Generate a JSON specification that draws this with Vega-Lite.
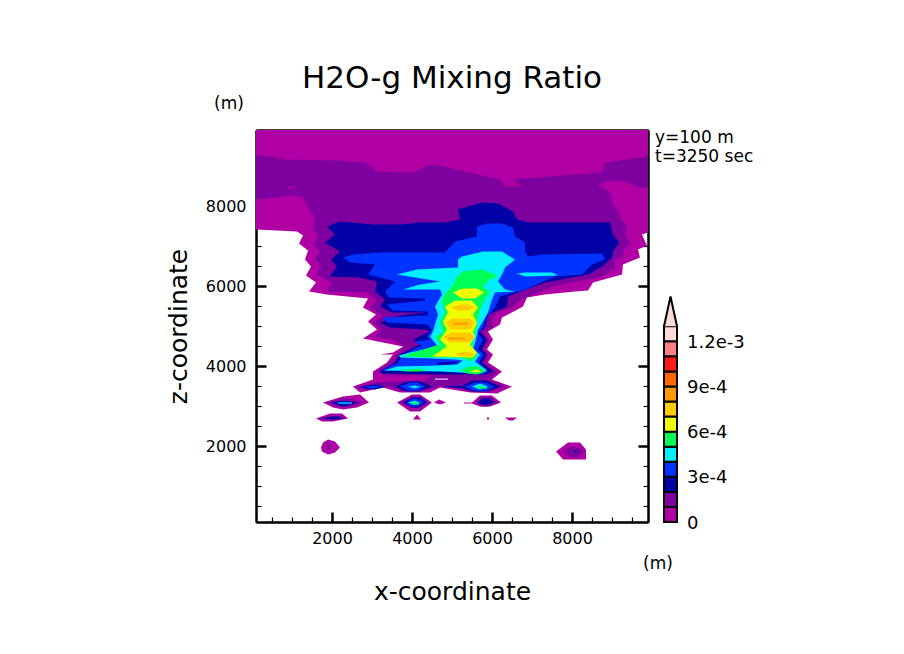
{
"$schema":"https://vega.github.io/schema/vega-lite/v6.json",
"width":392,"height":392,
"autosize":{"type":"none"},
"padding":{"left":256,"top":130,"right":256,"bottom":132},
"background":"white",
"title":{"text":"H2O-g Mixing Ratio","font":"DejaVu Sans","fontSize":31,"fontWeight":"normal","color":"black","anchor":"middle","offset":0},
"config":{"view":{"stroke":null},"axis":{"grid":false,"domainColor":"black","domainWidth":2,"tickColor":"black","zindex":1,"labelFont":"DejaVu Sans","labelFontSize":16,"labelColor":"black","titleFont":"DejaVu Sans","titleFontSize":25,"titleFontWeight":"normal","titleColor":"black"}},
"datasets":{
"contours":[
{"p":1,"l":0,"x":100,"z":9900},{"p":1,"l":0,"x":9900,"z":9900},{"p":1,"l":0,"x":9900,"z":7335},{"p":1,"l":0,"x":9750,"z":7285},{"p":1,"l":0,"x":9875,"z":7010},{"p":1,"l":0,"x":9650,"z":6910},{"p":1,"l":0,"x":9700,"z":6710},{"p":1,"l":0,"x":9275,"z":6535},{"p":1,"l":0,"x":9250,"z":6285},{"p":1,"l":0,"x":8525,"z":6085},{"p":1,"l":0,"x":8400,"z":5885},{"p":1,"l":0,"x":8075,"z":5860},{"p":1,"l":0,"x":7325,"z":5785},{"p":1,"l":0,"x":6875,"z":5710},{"p":1,"l":0,"x":6775,"z":5485},{"p":1,"l":0,"x":6250,"z":5210},{"p":1,"l":0,"x":6200,"z":5035},{"p":1,"l":0,"x":5900,"z":4860},{"p":1,"l":0,"x":6025,"z":4660},{"p":1,"l":0,"x":5875,"z":4410},{"p":1,"l":0,"x":6025,"z":4285},{"p":1,"l":0,"x":5900,"z":4085},{"p":1,"l":0,"x":6250,"z":3860},{"p":1,"l":0,"x":6000,"z":3660},{"p":1,"l":0,"x":6500,"z":3485},{"p":1,"l":0,"x":6125,"z":3310},{"p":1,"l":0,"x":5450,"z":3335},{"p":1,"l":0,"x":4700,"z":3460},{"p":1,"l":0,"x":4450,"z":3335},{"p":1,"l":0,"x":3700,"z":3335},{"p":1,"l":0,"x":3275,"z":3460},{"p":1,"l":0,"x":2700,"z":3335},{"p":1,"l":0,"x":2525,"z":3485},{"p":1,"l":0,"x":3025,"z":3660},{"p":1,"l":0,"x":3025,"z":3860},{"p":1,"l":0,"x":3375,"z":4085},{"p":1,"l":0,"x":3525,"z":4285},{"p":1,"l":0,"x":3200,"z":4285},{"p":1,"l":0,"x":3525,"z":4335},{"p":1,"l":0,"x":3775,"z":4485},{"p":1,"l":0,"x":2775,"z":4685},{"p":1,"l":0,"x":3125,"z":4910},{"p":1,"l":0,"x":2900,"z":5110},{"p":1,"l":0,"x":3100,"z":5285},{"p":1,"l":0,"x":2775,"z":5460},{"p":1,"l":0,"x":2900,"z":5685},{"p":1,"l":0,"x":1875,"z":5785},{"p":1,"l":0,"x":1425,"z":5860},{"p":1,"l":0,"x":1600,"z":6085},{"p":1,"l":0,"x":1350,"z":6260},{"p":1,"l":0,"x":1475,"z":6485},{"p":1,"l":0,"x":1325,"z":6660},{"p":1,"l":0,"x":1400,"z":6885},{"p":1,"l":0,"x":1175,"z":7060},{"p":1,"l":0,"x":1275,"z":7260},{"p":1,"l":0,"x":1125,"z":7360},{"p":1,"l":0,"x":100,"z":7410},
{"p":2,"l":1,"x":100,"z":9260},{"p":2,"l":1,"x":500,"z":9235},{"p":2,"l":1,"x":775,"z":9160},{"p":2,"l":1,"x":2125,"z":9135},{"p":2,"l":1,"x":2825,"z":9085},{"p":2,"l":1,"x":3125,"z":8860},{"p":2,"l":1,"x":4025,"z":8835},{"p":2,"l":1,"x":4500,"z":9035},{"p":2,"l":1,"x":4825,"z":8985},{"p":2,"l":1,"x":5325,"z":8860},{"p":2,"l":1,"x":6200,"z":8660},{"p":2,"l":1,"x":6325,"z":8485},{"p":2,"l":1,"x":6750,"z":8485},{"p":2,"l":1,"x":6525,"z":8660},{"p":2,"l":1,"x":8750,"z":8835},{"p":2,"l":1,"x":8825,"z":9085},{"p":2,"l":1,"x":9900,"z":9235},{"p":2,"l":1,"x":9900,"z":8460},{"p":2,"l":1,"x":9700,"z":8460},{"p":2,"l":1,"x":9325,"z":8610},{"p":2,"l":1,"x":8900,"z":8635},{"p":2,"l":1,"x":8650,"z":8510},{"p":2,"l":1,"x":8950,"z":8360},{"p":2,"l":1,"x":9000,"z":8085},{"p":2,"l":1,"x":9150,"z":7860},{"p":2,"l":1,"x":9200,"z":7710},{"p":2,"l":1,"x":9375,"z":7485},{"p":2,"l":1,"x":9325,"z":7285},{"p":2,"l":1,"x":9450,"z":7085},{"p":2,"l":1,"x":9275,"z":6885},{"p":2,"l":1,"x":9275,"z":6735},{"p":2,"l":1,"x":9075,"z":6660},{"p":2,"l":1,"x":9075,"z":6460},{"p":2,"l":1,"x":8750,"z":6235},{"p":2,"l":1,"x":7500,"z":5985},{"p":2,"l":1,"x":6900,"z":5735},{"p":2,"l":1,"x":6625,"z":5610},{"p":2,"l":1,"x":6525,"z":5460},{"p":2,"l":1,"x":6375,"z":5410},{"p":2,"l":1,"x":6125,"z":5335},{"p":2,"l":1,"x":6000,"z":5160},{"p":2,"l":1,"x":6025,"z":4960},{"p":2,"l":1,"x":5775,"z":4835},{"p":2,"l":1,"x":5925,"z":4660},{"p":2,"l":1,"x":5800,"z":4410},{"p":2,"l":1,"x":5925,"z":4285},{"p":2,"l":1,"x":5825,"z":4085},{"p":2,"l":1,"x":6150,"z":3860},{"p":2,"l":1,"x":5900,"z":3660},{"p":2,"l":1,"x":6375,"z":3485},{"p":2,"l":1,"x":5950,"z":3360},{"p":2,"l":1,"x":5500,"z":3360},{"p":2,"l":1,"x":5150,"z":3485},{"p":2,"l":1,"x":4700,"z":3485},{"p":2,"l":1,"x":4375,"z":3410},{"p":2,"l":1,"x":3775,"z":3360},{"p":2,"l":1,"x":3325,"z":3510},{"p":2,"l":1,"x":2875,"z":3385},{"p":2,"l":1,"x":2650,"z":3485},{"p":2,"l":1,"x":3025,"z":3585},{"p":2,"l":1,"x":3575,"z":3610},{"p":2,"l":1,"x":4325,"z":3635},{"p":2,"l":1,"x":4500,"z":3760},{"p":2,"l":1,"x":3325,"z":3760},{"p":2,"l":1,"x":3125,"z":3860},{"p":2,"l":1,"x":3450,"z":4085},{"p":2,"l":1,"x":3625,"z":4285},{"p":2,"l":1,"x":3825,"z":4485},{"p":2,"l":1,"x":3575,"z":4635},{"p":2,"l":1,"x":3075,"z":4735},{"p":2,"l":1,"x":3250,"z":4935},{"p":2,"l":1,"x":3025,"z":5085},{"p":2,"l":1,"x":3275,"z":5235},{"p":2,"l":1,"x":2950,"z":5460},{"p":2,"l":1,"x":3125,"z":5610},{"p":2,"l":1,"x":2875,"z":5835},{"p":2,"l":1,"x":1875,"z":5860},{"p":2,"l":1,"x":2000,"z":6085},{"p":2,"l":1,"x":1600,"z":6285},{"p":2,"l":1,"x":1725,"z":6485},{"p":2,"l":1,"x":1575,"z":6660},{"p":2,"l":1,"x":1700,"z":6835},{"p":2,"l":1,"x":1550,"z":7035},{"p":2,"l":1,"x":1650,"z":7235},{"p":2,"l":1,"x":1525,"z":7460},{"p":2,"l":1,"x":1575,"z":7710},{"p":2,"l":1,"x":1400,"z":7960},{"p":2,"l":1,"x":1275,"z":8210},{"p":2,"l":1,"x":1025,"z":8260},{"p":2,"l":1,"x":575,"z":8210},{"p":2,"l":1,"x":100,"z":8160},
{"p":3,"l":0,"x":875,"z":8485},{"p":3,"l":0,"x":1075,"z":8485},{"p":3,"l":0,"x":1075,"z":8435},{"p":3,"l":0,"x":900,"z":8435},
{"p":4,"l":2,"x":1875,"z":7485},{"p":4,"l":2,"x":2200,"z":7610},{"p":4,"l":2,"x":3025,"z":7535},{"p":4,"l":2,"x":3775,"z":7535},{"p":4,"l":2,"x":4200,"z":7585},{"p":4,"l":2,"x":4825,"z":7585},{"p":4,"l":2,"x":5200,"z":7660},{"p":4,"l":2,"x":5150,"z":7910},{"p":4,"l":2,"x":5750,"z":8085},{"p":4,"l":2,"x":6150,"z":8060},{"p":4,"l":2,"x":6525,"z":7860},{"p":4,"l":2,"x":6625,"z":7660},{"p":4,"l":2,"x":6900,"z":7585},{"p":4,"l":2,"x":8950,"z":7585},{"p":4,"l":2,"x":9025,"z":7285},{"p":4,"l":2,"x":9175,"z":7085},{"p":4,"l":2,"x":9025,"z":6860},{"p":4,"l":2,"x":9000,"z":6710},{"p":4,"l":2,"x":8750,"z":6485},{"p":4,"l":2,"x":8400,"z":6285},{"p":4,"l":2,"x":7325,"z":6085},{"p":4,"l":2,"x":6700,"z":5860},{"p":4,"l":2,"x":6400,"z":5735},{"p":4,"l":2,"x":6375,"z":5485},{"p":4,"l":2,"x":5900,"z":5285},{"p":4,"l":2,"x":5825,"z":4960},{"p":4,"l":2,"x":5700,"z":4860},{"p":4,"l":2,"x":5875,"z":4660},{"p":4,"l":2,"x":5750,"z":4410},{"p":4,"l":2,"x":5875,"z":4285},{"p":4,"l":2,"x":5750,"z":4085},{"p":4,"l":2,"x":6025,"z":3860},{"p":4,"l":2,"x":5825,"z":3785},{"p":4,"l":2,"x":4700,"z":3785},{"p":4,"l":2,"x":3275,"z":3810},{"p":4,"l":2,"x":3200,"z":3860},{"p":4,"l":2,"x":3575,"z":4085},{"p":4,"l":2,"x":3700,"z":4285},{"p":4,"l":2,"x":3950,"z":4410},{"p":4,"l":2,"x":4200,"z":4535},{"p":4,"l":2,"x":4025,"z":4660},{"p":4,"l":2,"x":4450,"z":4860},{"p":4,"l":2,"x":4325,"z":4910},{"p":4,"l":2,"x":3450,"z":4960},{"p":4,"l":2,"x":3200,"z":5085},{"p":4,"l":2,"x":3700,"z":5260},{"p":4,"l":2,"x":4375,"z":5335},{"p":4,"l":2,"x":3500,"z":5335},{"p":4,"l":2,"x":3200,"z":5485},{"p":4,"l":2,"x":3325,"z":5660},{"p":4,"l":2,"x":3075,"z":5860},{"p":4,"l":2,"x":3125,"z":6110},{"p":4,"l":2,"x":2700,"z":6210},{"p":4,"l":2,"x":1950,"z":6235},{"p":4,"l":2,"x":2125,"z":6485},{"p":4,"l":2,"x":1975,"z":6660},{"p":4,"l":2,"x":2200,"z":6860},{"p":4,"l":2,"x":1825,"z":7085},{"p":4,"l":2,"x":2075,"z":7285},
{"p":5,"l":3,"x":2275,"z":6710},{"p":5,"l":3,"x":2525,"z":6785},{"p":5,"l":3,"x":3200,"z":6835},{"p":5,"l":3,"x":4825,"z":6835},{"p":5,"l":3,"x":5075,"z":7110},{"p":5,"l":3,"x":5625,"z":7235},{"p":5,"l":3,"x":5625,"z":7485},{"p":5,"l":3,"x":5875,"z":7560},{"p":5,"l":3,"x":6250,"z":7560},{"p":5,"l":3,"x":6525,"z":7460},{"p":5,"l":3,"x":6575,"z":7235},{"p":5,"l":3,"x":6825,"z":7085},{"p":5,"l":3,"x":6825,"z":6860},{"p":5,"l":3,"x":6900,"z":6735},{"p":5,"l":3,"x":7250,"z":6785},{"p":5,"l":3,"x":8750,"z":6810},{"p":5,"l":3,"x":8825,"z":6660},{"p":5,"l":3,"x":8500,"z":6535},{"p":5,"l":3,"x":8250,"z":6285},{"p":5,"l":3,"x":7575,"z":6235},{"p":5,"l":3,"x":6825,"z":5910},{"p":5,"l":3,"x":6200,"z":5735},{"p":5,"l":3,"x":6075,"z":5460},{"p":5,"l":3,"x":5875,"z":5235},{"p":5,"l":3,"x":5775,"z":4960},{"p":5,"l":3,"x":5650,"z":4810},{"p":5,"l":3,"x":5775,"z":4660},{"p":5,"l":3,"x":5650,"z":4410},{"p":5,"l":3,"x":5800,"z":4285},{"p":5,"l":3,"x":5675,"z":4085},{"p":5,"l":3,"x":5900,"z":3860},{"p":5,"l":3,"x":5775,"z":3785},{"p":5,"l":3,"x":5125,"z":3860},{"p":5,"l":3,"x":4700,"z":3910},{"p":5,"l":3,"x":3250,"z":3885},{"p":5,"l":3,"x":3650,"z":4085},{"p":5,"l":3,"x":3775,"z":4285},{"p":5,"l":3,"x":4125,"z":4460},{"p":5,"l":3,"x":4250,"z":4485},{"p":5,"l":3,"x":4075,"z":4610},{"p":5,"l":3,"x":4450,"z":4660},{"p":5,"l":3,"x":4375,"z":4735},{"p":5,"l":3,"x":4500,"z":4910},{"p":5,"l":3,"x":4375,"z":5035},{"p":5,"l":3,"x":3375,"z":5085},{"p":5,"l":3,"x":3275,"z":5210},{"p":5,"l":3,"x":4400,"z":5260},{"p":5,"l":3,"x":4400,"z":5360},{"p":5,"l":3,"x":3525,"z":5385},{"p":5,"l":3,"x":3375,"z":5535},{"p":5,"l":3,"x":4325,"z":5635},{"p":5,"l":3,"x":4325,"z":5685},{"p":5,"l":3,"x":3400,"z":5710},{"p":5,"l":3,"x":3325,"z":5860},{"p":5,"l":3,"x":3575,"z":6110},{"p":5,"l":3,"x":2900,"z":6285},{"p":5,"l":3,"x":3075,"z":6535},{"p":5,"l":3,"x":2450,"z":6585},
{"p":6,"l":2,"x":4625,"z":4085},{"p":6,"l":2,"x":5025,"z":4110},{"p":6,"l":2,"x":5200,"z":4085},{"p":6,"l":2,"x":4950,"z":4035},{"p":6,"l":2,"x":4650,"z":4035},
{"p":7,"l":4,"x":3625,"z":6285},{"p":7,"l":4,"x":4125,"z":6410},{"p":7,"l":4,"x":5150,"z":6460},{"p":7,"l":4,"x":5150,"z":6660},{"p":7,"l":4,"x":5250,"z":6735},{"p":7,"l":4,"x":5775,"z":6860},{"p":7,"l":4,"x":6250,"z":6860},{"p":7,"l":4,"x":6575,"z":6660},{"p":7,"l":4,"x":6325,"z":6460},{"p":7,"l":4,"x":6275,"z":6335},{"p":7,"l":4,"x":6150,"z":6110},{"p":7,"l":4,"x":6325,"z":5910},{"p":7,"l":4,"x":6575,"z":5860},{"p":7,"l":4,"x":6075,"z":5835},{"p":7,"l":4,"x":6000,"z":5660},{"p":7,"l":4,"x":5900,"z":5335},{"p":7,"l":4,"x":5775,"z":5110},{"p":7,"l":4,"x":5650,"z":4910},{"p":7,"l":4,"x":5600,"z":4660},{"p":7,"l":4,"x":5525,"z":4410},{"p":7,"l":4,"x":5700,"z":4285},{"p":7,"l":4,"x":5575,"z":4110},{"p":7,"l":4,"x":5875,"z":3885},{"p":7,"l":4,"x":5700,"z":3810},{"p":7,"l":4,"x":5200,"z":3835},{"p":7,"l":4,"x":4700,"z":3860},{"p":7,"l":4,"x":3300,"z":3885},{"p":7,"l":4,"x":3625,"z":3985},{"p":7,"l":4,"x":4625,"z":4010},{"p":7,"l":4,"x":5125,"z":4035},{"p":7,"l":4,"x":5275,"z":4135},{"p":7,"l":4,"x":5075,"z":4160},{"p":7,"l":4,"x":4525,"z":4185},{"p":7,"l":4,"x":3700,"z":4210},{"p":7,"l":4,"x":3675,"z":4260},{"p":7,"l":4,"x":3950,"z":4335},{"p":7,"l":4,"x":4325,"z":4410},{"p":7,"l":4,"x":4625,"z":4510},{"p":7,"l":4,"x":4450,"z":4735},{"p":7,"l":4,"x":4525,"z":4860},{"p":7,"l":4,"x":4575,"z":5035},{"p":7,"l":4,"x":4650,"z":5285},{"p":7,"l":4,"x":4575,"z":5485},{"p":7,"l":4,"x":4750,"z":5785},{"p":7,"l":4,"x":4700,"z":5910},{"p":7,"l":4,"x":3775,"z":5910},{"p":7,"l":4,"x":4200,"z":6035},{"p":7,"l":4,"x":4700,"z":6110},
{"p":8,"l":4,"x":6625,"z":6310},{"p":8,"l":4,"x":6825,"z":6335},{"p":8,"l":4,"x":7500,"z":6335},{"p":8,"l":4,"x":7650,"z":6260},{"p":8,"l":4,"x":6825,"z":6235},
{"p":9,"l":5,"x":5125,"z":6235},{"p":9,"l":5,"x":5275,"z":6360},{"p":9,"l":5,"x":5750,"z":6410},{"p":9,"l":5,"x":6150,"z":6260},{"p":9,"l":5,"x":5950,"z":6160},{"p":9,"l":5,"x":5775,"z":5985},{"p":9,"l":5,"x":5950,"z":5835},{"p":9,"l":5,"x":5775,"z":5585},{"p":9,"l":5,"x":5700,"z":5360},{"p":9,"l":5,"x":5625,"z":5110},{"p":9,"l":5,"x":5625,"z":4960},{"p":9,"l":5,"x":5525,"z":4660},{"p":9,"l":5,"x":5525,"z":4410},{"p":9,"l":5,"x":5625,"z":4285},{"p":9,"l":5,"x":5500,"z":4110},{"p":9,"l":5,"x":5200,"z":4210},{"p":9,"l":5,"x":4525,"z":4210},{"p":9,"l":5,"x":3775,"z":4235},{"p":9,"l":5,"x":3950,"z":4310},{"p":9,"l":5,"x":4275,"z":4410},{"p":9,"l":5,"x":4700,"z":4535},{"p":9,"l":5,"x":4575,"z":4735},{"p":9,"l":5,"x":4775,"z":4835},{"p":9,"l":5,"x":4700,"z":5110},{"p":9,"l":5,"x":4825,"z":5360},{"p":9,"l":5,"x":4750,"z":5585},{"p":9,"l":5,"x":4775,"z":5735},{"p":9,"l":5,"x":5025,"z":6035},
{"p":10,"l":5,"x":5200,"z":3885},{"p":10,"l":5,"x":5400,"z":3985},{"p":10,"l":5,"x":5700,"z":3985},{"p":10,"l":5,"x":5825,"z":3860},{"p":10,"l":5,"x":5625,"z":3785},{"p":10,"l":5,"x":5375,"z":3810},
{"p":11,"l":5,"x":3700,"z":3885},{"p":11,"l":5,"x":4200,"z":3935},{"p":11,"l":5,"x":4325,"z":3885},{"p":11,"l":5,"x":4200,"z":3860},{"p":11,"l":5,"x":3825,"z":3860},
{"p":12,"l":6,"x":5025,"z":5835},{"p":12,"l":6,"x":5250,"z":5935},{"p":12,"l":6,"x":5625,"z":5935},{"p":12,"l":6,"x":5800,"z":5835},{"p":12,"l":6,"x":5575,"z":5685},{"p":12,"l":6,"x":5250,"z":5685},
{"p":13,"l":6,"x":4825,"z":5485},{"p":13,"l":6,"x":5075,"z":5635},{"p":13,"l":6,"x":5500,"z":5635},{"p":13,"l":6,"x":5650,"z":5460},{"p":13,"l":6,"x":5525,"z":5285},{"p":13,"l":6,"x":5625,"z":5085},{"p":13,"l":6,"x":5525,"z":4835},{"p":13,"l":6,"x":5575,"z":4735},{"p":13,"l":6,"x":5450,"z":4535},{"p":13,"l":6,"x":5625,"z":4335},{"p":13,"l":6,"x":5525,"z":4210},{"p":13,"l":6,"x":4500,"z":4235},{"p":13,"l":6,"x":4875,"z":4485},{"p":13,"l":6,"x":4700,"z":4660},{"p":13,"l":6,"x":4875,"z":4910},{"p":13,"l":6,"x":4775,"z":5110},{"p":13,"l":6,"x":4900,"z":5335},
{"p":14,"l":6,"x":5450,"z":3860},{"p":14,"l":6,"x":5600,"z":3910},{"p":14,"l":6,"x":5750,"z":3860},{"p":14,"l":6,"x":5600,"z":3835},
{"p":15,"l":7,"x":4950,"z":5460},{"p":15,"l":7,"x":5200,"z":5535},{"p":15,"l":7,"x":5400,"z":5535},{"p":15,"l":7,"x":5575,"z":5460},{"p":15,"l":7,"x":5400,"z":5385},{"p":15,"l":7,"x":5125,"z":5385},
{"p":16,"l":7,"x":4825,"z":5085},{"p":16,"l":7,"x":5000,"z":5185},{"p":16,"l":7,"x":5450,"z":5185},{"p":16,"l":7,"x":5575,"z":5085},{"p":16,"l":7,"x":5450,"z":4910},{"p":16,"l":7,"x":4950,"z":4910},
{"p":17,"l":7,"x":4775,"z":4710},{"p":17,"l":7,"x":4950,"z":4835},{"p":17,"l":7,"x":5450,"z":4835},{"p":17,"l":7,"x":5575,"z":4710},{"p":17,"l":7,"x":5450,"z":4585},{"p":17,"l":7,"x":4950,"z":4585},
{"p":18,"l":7,"x":5075,"z":4285},{"p":18,"l":7,"x":5275,"z":4360},{"p":18,"l":7,"x":5500,"z":4335},{"p":18,"l":7,"x":5550,"z":4285},{"p":18,"l":7,"x":5500,"z":4235},{"p":18,"l":7,"x":5200,"z":4235},
{"p":19,"l":8,"x":5025,"z":5085},{"p":19,"l":8,"x":5400,"z":5085},{"p":19,"l":8,"x":5400,"z":5035},{"p":19,"l":8,"x":5025,"z":5035},
{"p":20,"l":8,"x":4900,"z":4710},{"p":20,"l":8,"x":5325,"z":4710},{"p":20,"l":8,"x":5325,"z":4660},{"p":20,"l":8,"x":4900,"z":4660},
{"p":21,"l":2,"x":2650,"z":3460},{"p":21,"l":2,"x":3075,"z":3535},{"p":21,"l":2,"x":3375,"z":3485},{"p":21,"l":2,"x":3075,"z":3410},
{"p":22,"l":2,"x":3575,"z":3485},{"p":22,"l":2,"x":3875,"z":3610},{"p":22,"l":2,"x":4200,"z":3610},{"p":22,"l":2,"x":4500,"z":3485},{"p":22,"l":2,"x":4200,"z":3360},{"p":22,"l":2,"x":3875,"z":3360},
{"p":23,"l":2,"x":4750,"z":3485},{"p":23,"l":2,"x":5275,"z":3510},{"p":23,"l":2,"x":5500,"z":3635},{"p":23,"l":2,"x":5875,"z":3635},{"p":23,"l":2,"x":6200,"z":3485},{"p":23,"l":2,"x":5875,"z":3360},{"p":23,"l":2,"x":5500,"z":3360},{"p":23,"l":2,"x":5250,"z":3435},
{"p":24,"l":3,"x":2800,"z":3460},{"p":24,"l":3,"x":3025,"z":3510},{"p":24,"l":3,"x":3250,"z":3485},{"p":24,"l":3,"x":3025,"z":3435},
{"p":25,"l":3,"x":3700,"z":3485},{"p":25,"l":3,"x":3950,"z":3585},{"p":25,"l":3,"x":4150,"z":3585},{"p":25,"l":3,"x":4325,"z":3485},{"p":25,"l":3,"x":4150,"z":3385},{"p":25,"l":3,"x":3900,"z":3385},
{"p":26,"l":3,"x":5325,"z":3485},{"p":26,"l":3,"x":5575,"z":3585},{"p":26,"l":3,"x":5825,"z":3585},{"p":26,"l":3,"x":6075,"z":3485},{"p":26,"l":3,"x":5825,"z":3360},{"p":26,"l":3,"x":5525,"z":3385},
{"p":27,"l":4,"x":3900,"z":3485},{"p":27,"l":4,"x":4075,"z":3510},{"p":27,"l":4,"x":4200,"z":3485},{"p":27,"l":4,"x":4075,"z":3435},
{"p":28,"l":4,"x":5500,"z":3485},{"p":28,"l":4,"x":5700,"z":3560},{"p":28,"l":4,"x":5900,"z":3485},{"p":28,"l":4,"x":5700,"z":3410},
{"p":29,"l":5,"x":5625,"z":3485},{"p":29,"l":5,"x":5875,"z":3485},{"p":29,"l":5,"x":5875,"z":3435},{"p":29,"l":5,"x":5625,"z":3435},
{"p":30,"l":99,"x":4575,"z":3685},{"p":30,"l":99,"x":4900,"z":3685},{"p":30,"l":99,"x":4900,"z":3660},{"p":30,"l":99,"x":4575,"z":3660},
{"p":31,"l":0,"x":1775,"z":3085},{"p":31,"l":0,"x":2275,"z":3235},{"p":31,"l":0,"x":2700,"z":3285},{"p":31,"l":0,"x":2925,"z":3085},{"p":31,"l":0,"x":2625,"z":2960},{"p":31,"l":0,"x":2275,"z":2910},{"p":31,"l":0,"x":2025,"z":2960},
{"p":32,"l":0,"x":3625,"z":3085},{"p":32,"l":0,"x":4000,"z":3285},{"p":32,"l":0,"x":4200,"z":3285},{"p":32,"l":0,"x":4500,"z":3085},{"p":32,"l":0,"x":4200,"z":2860},{"p":32,"l":0,"x":3950,"z":2860},
{"p":33,"l":0,"x":4550,"z":3085},{"p":33,"l":0,"x":4675,"z":3160},{"p":33,"l":0,"x":4850,"z":3085},{"p":33,"l":0,"x":4700,"z":3035},
{"p":34,"l":0,"x":5300,"z":3085},{"p":34,"l":0,"x":5500,"z":3085},{"p":34,"l":0,"x":5700,"z":3260},{"p":34,"l":0,"x":6000,"z":3260},{"p":34,"l":0,"x":6225,"z":3085},{"p":34,"l":0,"x":5950,"z":2985},{"p":34,"l":0,"x":5700,"z":2985},{"p":34,"l":0,"x":5500,"z":3060},{"p":34,"l":0,"x":5300,"z":3060},
{"p":35,"l":0,"x":1600,"z":2685},{"p":35,"l":0,"x":1950,"z":2810},{"p":35,"l":0,"x":2250,"z":2810},{"p":35,"l":0,"x":2400,"z":2685},{"p":35,"l":0,"x":2025,"z":2610},{"p":35,"l":0,"x":1750,"z":2610},
{"p":36,"l":0,"x":4025,"z":2660},{"p":36,"l":0,"x":4125,"z":2785},{"p":36,"l":0,"x":4225,"z":2660},
{"p":37,"l":0,"x":5875,"z":2710},{"p":37,"l":0,"x":5925,"z":2710},{"p":37,"l":0,"x":5925,"z":2660},{"p":37,"l":0,"x":5875,"z":2660},
{"p":38,"l":0,"x":6325,"z":2710},{"p":38,"l":0,"x":6625,"z":2710},{"p":38,"l":0,"x":6525,"z":2635},{"p":38,"l":0,"x":6425,"z":2635},
{"p":39,"l":0,"x":1725,"z":1960},{"p":39,"l":0,"x":1775,"z":2085},{"p":39,"l":0,"x":1900,"z":2160},{"p":39,"l":0,"x":2075,"z":2110},{"p":39,"l":0,"x":2200,"z":1960},{"p":39,"l":0,"x":2075,"z":1835},{"p":39,"l":0,"x":1900,"z":1785},{"p":39,"l":0,"x":1750,"z":1860},
{"p":40,"l":0,"x":7600,"z":1860},{"p":40,"l":0,"x":7900,"z":2085},{"p":40,"l":0,"x":8200,"z":2085},{"p":40,"l":0,"x":8350,"z":1910},{"p":40,"l":0,"x":8350,"z":1660},{"p":40,"l":0,"x":7775,"z":1660},
{"p":41,"l":1,"x":1875,"z":2085},{"p":41,"l":1,"x":1950,"z":2085},{"p":41,"l":1,"x":1950,"z":1860},{"p":41,"l":1,"x":1875,"z":1860},
{"p":42,"l":1,"x":7800,"z":1860},{"p":42,"l":1,"x":7950,"z":1985},{"p":42,"l":1,"x":8250,"z":1935},{"p":42,"l":1,"x":8275,"z":1835},{"p":42,"l":1,"x":8150,"z":1710},{"p":42,"l":1,"x":7950,"z":1735},
{"p":43,"l":2,"x":8025,"z":1885},{"p":43,"l":2,"x":8150,"z":1885},{"p":43,"l":2,"x":8100,"z":1835},
{"p":44,"l":1,"x":1875,"z":3085},{"p":44,"l":1,"x":2250,"z":3185},{"p":44,"l":1,"x":2525,"z":3160},{"p":44,"l":1,"x":2775,"z":3085},{"p":44,"l":1,"x":2450,"z":2960},{"p":44,"l":1,"x":2125,"z":2985},
{"p":45,"l":2,"x":1975,"z":3085},{"p":45,"l":2,"x":2275,"z":3135},{"p":45,"l":2,"x":2625,"z":3085},{"p":45,"l":2,"x":2275,"z":2985},
{"p":46,"l":3,"x":2075,"z":3085},{"p":46,"l":3,"x":2325,"z":3110},{"p":46,"l":3,"x":2525,"z":3085},{"p":46,"l":3,"x":2275,"z":3035},
{"p":47,"l":4,"x":2150,"z":3085},{"p":47,"l":4,"x":2500,"z":3085},{"p":47,"l":4,"x":2500,"z":3060},{"p":47,"l":4,"x":2150,"z":3060},
{"p":48,"l":1,"x":3700,"z":3085},{"p":48,"l":1,"x":4000,"z":3235},{"p":48,"l":1,"x":4200,"z":3235},{"p":48,"l":1,"x":4425,"z":3085},{"p":48,"l":1,"x":4150,"z":2910},{"p":48,"l":1,"x":4000,"z":2935},
{"p":49,"l":2,"x":3775,"z":3085},{"p":49,"l":2,"x":4000,"z":3210},{"p":49,"l":2,"x":4200,"z":3210},{"p":49,"l":2,"x":4375,"z":3085},{"p":49,"l":2,"x":4150,"z":2960},{"p":49,"l":2,"x":4000,"z":2960},
{"p":50,"l":3,"x":3850,"z":3085},{"p":50,"l":3,"x":4025,"z":3185},{"p":50,"l":3,"x":4200,"z":3160},{"p":50,"l":3,"x":4300,"z":3085},{"p":50,"l":3,"x":4125,"z":2985},{"p":50,"l":3,"x":3950,"z":2985},
{"p":51,"l":4,"x":3900,"z":3085},{"p":51,"l":4,"x":4075,"z":3135},{"p":51,"l":4,"x":4175,"z":3085},{"p":51,"l":4,"x":4075,"z":3035},
{"p":52,"l":5,"x":4000,"z":3085},{"p":52,"l":5,"x":4175,"z":3085},{"p":52,"l":5,"x":4175,"z":3035},{"p":52,"l":5,"x":4000,"z":3035},
{"p":53,"l":1,"x":5575,"z":3085},{"p":53,"l":1,"x":5750,"z":3235},{"p":53,"l":1,"x":5950,"z":3235},{"p":53,"l":1,"x":6150,"z":3085},{"p":53,"l":1,"x":5900,"z":2985},{"p":53,"l":1,"x":5750,"z":2985},
{"p":54,"l":2,"x":5650,"z":3085},{"p":54,"l":2,"x":5750,"z":3185},{"p":54,"l":2,"x":5950,"z":3185},{"p":54,"l":2,"x":6050,"z":3085},{"p":54,"l":2,"x":5900,"z":3035},{"p":54,"l":2,"x":5750,"z":3035},
{"p":55,"l":1,"x":1650,"z":2685},{"p":55,"l":1,"x":2000,"z":2760},{"p":55,"l":1,"x":2200,"z":2760},{"p":55,"l":1,"x":2325,"z":2685},{"p":55,"l":1,"x":2000,"z":2635},{"p":55,"l":1,"x":1775,"z":2635},
{"p":56,"l":2,"x":1775,"z":2685},{"p":56,"l":2,"x":2000,"z":2735},{"p":56,"l":2,"x":2150,"z":2735},{"p":56,"l":2,"x":2275,"z":2685},{"p":56,"l":2,"x":2025,"z":2660}
],
"colorbar":[
{"l":0,"lo":0,"hi":0.0001},{"l":1,"lo":0.0001,"hi":0.0002},{"l":2,"lo":0.0002,"hi":0.0003},{"l":3,"lo":0.0003,"hi":0.0004},{"l":4,"lo":0.0004,"hi":0.0005},{"l":5,"lo":0.0005,"hi":0.0006},{"l":6,"lo":0.0006,"hi":0.0007},{"l":7,"lo":0.0007,"hi":0.0008},{"l":8,"lo":0.0008,"hi":0.0009},{"l":9,"lo":0.0009,"hi":0.001},{"l":10,"lo":0.001,"hi":0.0011},{"l":11,"lo":0.0011,"hi":0.0012},{"l":12,"lo":0.0012,"hi":0.0013}
],
"notes":[
{"x":-950,"z":10560,"t":"(m)"},{"x":9775,"z":-940,"t":"(m)"},{"x":10075,"z":9710,"t":"y=100 m"},{"x":10075,"z":9235,"t":"t=3250 sec"}
]
},
"resolve":{"scale":{"x":"independent","y":"independent"}},
"layer":[
{"data":{"name":"contours"},
 "mark":{"type":"line","strokeWidth":0,"clip":true},
 "encoding":{
  "x":{"field":"x","type":"quantitative","scale":{"domain":[100,9900],"nice":false},"axis":{"orient":"bottom","values":[2000,4000,6000,8000],"format":"d","tickSize":-10,"tickWidth":2.5,"labelPadding":18,"title":"x-coordinate","titlePadding":33}},
  "y":{"field":"z","type":"quantitative","scale":{"domain":[100,9900],"nice":false},"axis":{"orient":"left","values":[2000,4000,6000,8000],"format":"d","tickSize":-10,"tickWidth":2.5,"labelPadding":20,"title":"z-coordinate","titlePadding":14}},
  "fill":{"field":"l","type":"ordinal","legend":null,"scale":{"domain":[0,1,2,3,4,5,6,7,8,9,10,11,12,99],"range":["#B000A5","#7D009F","#0000A5","#0033FF","#00EEFF","#00FF55","#EEFF00","#FFCC00","#FF9900","#FF6600","#FF1A1A","#FF8080","#FFD9D9","#FFFFFF"]}},
  "detail":{"field":"p"},
  "order":{"value":null}
 }},
{"data":{"values":[]},
 "mark":{"type":"point","opacity":0},
 "encoding":{
  "x":{"field":"x","type":"quantitative","scale":{"domain":[100,9900],"nice":false},"axis":{"orient":"top","values":[2000,4000,6000,8000],"tickSize":-10,"tickWidth":2.5,"labels":false,"title":null}},
  "y":{"field":"z","type":"quantitative","scale":{"domain":[100,9900],"nice":false},"axis":{"orient":"right","values":[2000,4000,6000,8000],"tickSize":-10,"tickWidth":2.5,"labels":false,"title":null}}
 }},
{"data":{"values":[]},
 "mark":{"type":"point","opacity":0},
 "encoding":{
  "x":{"field":"x","type":"quantitative","scale":{"domain":[100,9900],"nice":false},"axis":{"orient":"bottom","values":[500,1000,1500,2500,3000,3500,4500,5000,5500,6500,7000,7500,8500,9000,9500],"tickSize":-5,"tickWidth":1.2,"labels":false,"title":null}},
  "y":{"field":"z","type":"quantitative","scale":{"domain":[100,9900],"nice":false},"axis":{"orient":"left","values":[500,1000,1500,2500,3000,3500,4500,5000,5500,6500,7000,7500,8500,9000,9500],"tickSize":-5,"tickWidth":1.2,"labels":false,"title":null}}
 }},
{"data":{"values":[]},
 "mark":{"type":"point","opacity":0},
 "encoding":{
  "x":{"field":"x","type":"quantitative","scale":{"domain":[100,9900],"nice":false},"axis":{"orient":"top","values":[500,1000,1500,2500,3000,3500,4500,5000,5500,6500,7000,7500,8500,9000,9500],"tickSize":-5,"tickWidth":1.2,"labels":false,"title":null}},
  "y":{"field":"z","type":"quantitative","scale":{"domain":[100,9900],"nice":false},"axis":{"orient":"right","values":[500,1000,1500,2500,3000,3500,4500,5000,5500,6500,7000,7500,8500,9000,9500],"tickSize":-5,"tickWidth":1.2,"labels":false,"title":null}}
 }},
{"data":{"name":"notes"},
 "mark":{"type":"text","align":"left","baseline":"middle","font":"DejaVu Sans","fontSize":17,"color":"black"},
 "encoding":{
  "x":{"field":"x","type":"quantitative","scale":{"domain":[100,9900],"nice":false},"axis":null},
  "y":{"field":"z","type":"quantitative","scale":{"domain":[100,9900],"nice":false},"axis":null},
  "text":{"field":"t"}
 }},
{"data":{"name":"colorbar"},
 "mark":{"type":"rect","stroke":"black","strokeWidth":2},
 "encoding":{
  "x":{"datum":0,"type":"quantitative","scale":{"domain":[-31.385,-1.231],"nice":false,"zero":false},"axis":null},
  "x2":{"datum":1},
  "y":{"field":"lo","type":"quantitative","scale":{"domain":[0,0.002603],"nice":false},"axis":null},
  "y2":{"field":"hi"},
  "fill":{"field":"l","type":"ordinal","legend":null,"scale":{"domain":[0,1,2,3,4,5,6,7,8,9,10,11,12,99],"range":["#B000A5","#7D009F","#0000A5","#0033FF","#00EEFF","#00FF55","#EEFF00","#FFCC00","#FF9900","#FF6600","#FF1A1A","#FF8080","#FFD9D9","#FFFFFF"]}}
 }},
{"data":{"values":[{"b":0,"r":0.0013},{"b":0.5,"r":0.001497},{"b":1,"r":0.0013}]},
 "mark":{"type":"line","fill":"#FFD9D9","stroke":"black","strokeWidth":2},
 "encoding":{
  "x":{"field":"b","type":"quantitative","scale":{"domain":[-31.385,-1.231],"nice":false,"zero":false},"axis":null},
  "y":{"field":"r","type":"quantitative","scale":{"domain":[0,0.002603],"nice":false},"axis":null}
 }},
{"data":{"values":[{"r":0,"t":"0"},{"r":0.0003,"t":"3e-4"},{"r":0.0006,"t":"6e-4"},{"r":0.0009,"t":"9e-4"},{"r":0.0012,"t":"1.2e-3"}]},
 "mark":{"type":"text","align":"left","baseline":"middle","font":"DejaVu Sans","fontSize":18,"dy":1.5,"color":"black"},
 "encoding":{
  "x":{"datum":1.77,"type":"quantitative","scale":{"domain":[-31.385,-1.231],"nice":false,"zero":false},"axis":null},
  "y":{"field":"r","type":"quantitative","scale":{"domain":[0,0.002603],"nice":false},"axis":null},
  "text":{"field":"t"}
 }}
]
}
